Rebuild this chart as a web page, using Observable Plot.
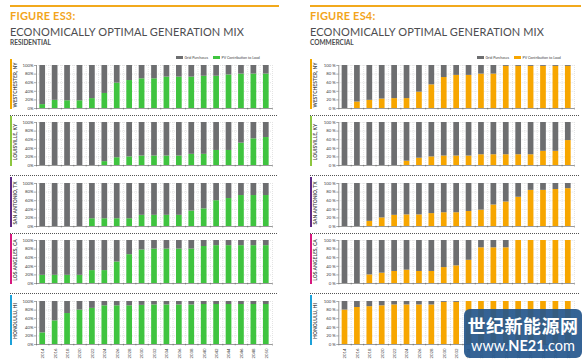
<!DOCTYPE html>
<html>
<head>
<meta charset="utf-8">
<script src="https://cdn.jsdelivr.net/npm/d3@7"></script>
<script src="https://cdn.jsdelivr.net/npm/@observablehq/plot@0.6"></script>
<style>
  html, body { margin: 0; padding: 0; background: #fff; }
  #root { position: relative; width: 588px; height: 364px; overflow: hidden; font-family: Lato, "Open Sans", sans-serif; }
  .topline { position: absolute; height: 1.5px; background: #f2a91c; }
  .fig { position: absolute; font-weight: 700; font-size: 11px; color: #f2a51b; letter-spacing: 0.2px; white-space: nowrap; }
  .ttl { position: absolute; font-weight: 400; font-size: 11px; color: #4d4d4f; letter-spacing: 0.1px; white-space: nowrap; }
  .sub { position: absolute; font-weight: 700; font-size: 6.5px; color: #4d4d4f; white-space: nowrap; }
  .sep { position: absolute; height: 0; border-top: 1px dotted #555; }
  .cbar { position: absolute; width: 1.5px; }
  .leg { position: absolute; font-size: 3.6px; color: #444; display: flex; align-items: center; gap: 1.5px; white-space: nowrap; }
  .sw { display: inline-block; width: 7px; height: 2.6px; }
  svg { position: absolute; overflow: visible; }
  #wm { position: absolute; left: 464px; top: 309px; width: 118px; height: 49px; background: rgba(36,86,140,0.92); border-radius: 6px; color: #fff; }
  #wm div { position: absolute; left: 0; width: 118px; text-align: center; white-space: nowrap; }
</style>
</head>
<body>
<div id="root"></div>
<script>
// ---------- data ----------
const years = [2014, 2016, 2018, 2020, 2022, 2024, 2026, 2028, 2030, 2032, 2034, 2036, 2038, 2040, 2042, 2044, 2046, 2048, 2050];
const cities = ["WESTCHESTER, NY", "LOUISVILLE, KY", "SAN ANTONIO, TX", "LOS ANGELES, CA", "HONOLULU, HI"];
const cityColors = ["#f2a900", "#8dc63f", "#5e2a84", "#d6187f", "#1da1d9"];
const yTicks = [0, 20, 40, 60, 80, 100];
const seriesNames = ["Grid Purchases", "PV Contribution to Load"];

// PV contribution to load (%) — residential
const resWestchester = [9, 19, 18, 18, 23, 35, 59, 65, 69, 69, 73, 73, 73, 75, 75, 78, 80, 80, 80];
const resLouisville  = [0, 0, 0, 0, 0, 9, 18, 20, 22, 22, 22, 22, 26, 26, 35, 35, 52, 62, 65];
const resSanAntonio  = [0, 0, 0, 0, 18, 18, 18, 18, 26, 26, 26, 26, 36, 41, 60, 65, 72, 72, 72];
const resLosAngeles  = [19, 19, 19, 19, 30, 30, 50, 67, 78, 80, 80, 80, 80, 86, 88, 88, 88, 88, 88];
const resHonolulu    = [27, 55, 72, 80, 84, 90, 90, 90, 91, 92, 92, 92, 92, 93, 93, 93, 93, 93, 93];

// PV contribution to load (%) — commercial
const comWestchester = [0, 15, 19, 22, 23, 23, 38, 55, 72, 77, 77, 80, 80, 98, 98, 98, 98, 98, 98];
const comLouisville  = [0, 0, 0, 0, 0, 10, 17, 20, 22, 22, 22, 25, 25, 25, 25, 25, 33, 33, 58];
const comSanAntonio  = [0, 0, 12, 20, 26, 27, 27, 30, 32, 32, 35, 38, 50, 57, 68, 84, 84, 86, 88];
const comLosAngeles  = [0, 0, 20, 24, 28, 31, 28, 28, 37, 41, 54, 83, 83, 83, 100, 100, 100, 100, 100];
const comHonolulu    = [80, 86, 88, 90, 92, 92, 92, 92, 98, 98, 100, 100, 100, 100, 100, 100, 100, 100, 100];

// ---------- layout ----------
const GRAY = "#6d6e70";
const GREEN = "#3fc43f";
const ORANGE = "#f7a600";
const root = document.getElementById("root");
const panelTops = [65, 122, 183, 240, 301];
const PH = 43;
const seps = [115, 175, 233, 293];

function el(cls, style, html) {
  const d = document.createElement("div");
  d.className = cls;
  Object.assign(d.style, style);
  if (html != null) d.innerHTML = html;
  root.appendChild(d);
  return d;
}

function column(cfg) {
  const { x0, axisX, endX, lineX1, lineX2, fig, sub, color, series, pctSep, legX } = cfg;
  el("topline", { left: lineX1 + "px", top: "5px", width: (lineX2 - lineX1) + "px" });
  el("fig", { left: (x0 + 10) + "px", top: "9px" }, fig);
  el("ttl", { left: (x0 + 10) + "px", top: "25px" }, "ECONOMICALLY OPTIMAL GENERATION MIX");
  el("sub", { left: (x0 + 10) + "px", top: "38.5px" }, sub);
  el("leg", { left: legX + "px", top: "55px" },
     `<span class="sw" style="background:${GRAY}"></span><span>${seriesNames[0]}</span><span style="width:2px"></span><span class="sw" style="background:${color}"></span><span>${seriesNames[1]}</span>`);
  seps.forEach(y => el("sep", { left: lineX1 + "px", top: y + "px", width: (lineX2 - lineX1 - 2) + "px" }));

  series.forEach((vals, i) => {
    const last = i === series.length - 1;
    const mt = 4, mb = last ? 20 : 4, mr = 8;
    const ml = axisX - x0;
    const data = years.map((year, j) => ({ year, pv: vals[j] }));
    const bounds = d3.range(2013, 2052, 2);
    const marks = [
      Plot.ruleY(yTicks.slice(1), { y: d => d, stroke: "#c8c8c8", strokeWidth: 0.5, strokeDasharray: "1,1" }),
      Plot.ruleX(bounds.slice(1), { x: d => d, stroke: "#c8c8c8", strokeWidth: 0.5, strokeDasharray: "1,1" }),
      Plot.rectY(data, { x1: d => d.year - 0.46, x2: d => d.year + 0.46, y1: 0, y2: "pv", fill: color }),
      Plot.rectY(data, { x1: d => d.year - 0.46, x2: d => d.year + 0.46, y1: "pv", y2: 100, fill: GRAY }),
      Plot.ruleX([2013], { stroke: "#555", strokeWidth: 0.6 }),
      Plot.ruleY([0], { stroke: "#555", strokeWidth: 0.6 }),
      Plot.axisY({ ticks: yTicks, label: null, tickFormat: d => d + pctSep + "%", tickSize: 2, tickPadding: 1, fontSize: 4.3, fill: "#444", stroke: "#555", strokeWidth: 0.5 }),
      Plot.axisX({ ticks: bounds, label: null, tickFormat: () => "", tickSize: 1.5, stroke: "#555", strokeWidth: 0.5 }),
      Plot.text([cities[i]], { frameAnchor: "left", textAnchor: "middle", dx: -(ml - 15), dy: -2, rotate: -90, text: d => d, fontSize: 5, fontWeight: 700, fill: "#4d4d4f" })
    ];
    if (last) {
      marks.push(Plot.text(years, { x: d => d, y: 0, dy: 4, rotate: -90, textAnchor: "end", text: d => String(d), fontSize: 4.3, fill: "#444" }));
    }
    const svg = Plot.plot({
      width: (endX - x0) + mr, height: PH + mt + mb,
      marginLeft: ml, marginRight: mr, marginTop: mt, marginBottom: mb,
      x: { type: "linear", domain: [2013, 2051], axis: null },
      y: { domain: [0, 100], axis: null },
      style: { background: "transparent", fontFamily: "Lato, 'Open Sans', sans-serif", overflow: "visible" },
      marks
    });
    svg.style.left = x0 + "px";
    svg.style.top = (panelTops[i] - mt) + "px";
    root.appendChild(svg);
    el("cbar", { left: (lineX1) + "px", top: (panelTops[i] - 6) + "px", height: (PH + 7) + "px", background: cityColors[i] });
  });
}

column({ x0: 0, axisX: 36, endX: 272, lineX1: 10, lineX2: 279, fig: "FIGURE ES3:", sub: "RESIDENTIAL",
         color: GREEN, pctSep: "", legX: 176,
         series: [resWestchester, resLouisville, resSanAntonio, resLosAngeles, resHonolulu] });
column({ x0: 300, axisX: 338.3, endX: 574, lineX1: 310, lineX2: 581, fig: "FIGURE ES4:", sub: "COMMERCIAL",
         color: ORANGE, pctSep: " ", legX: 477,
         series: [comWestchester, comLouisville, comSanAntonio, comLosAngeles, comHonolulu] });

// watermark
const wm = el("", {});
wm.id = "wm";
wm.innerHTML = `<div style="top:5px;font-family:'Noto Sans CJK SC',sans-serif;font-size:18px;font-weight:700;line-height:22px;letter-spacing:0.5px">世纪新能源网</div>
<div style="top:28px;font-family:Lato,'Open Sans',sans-serif;font-size:14.5px;line-height:17px">www.<b>NE21</b>.com</div>`;
</script>
</body>
</html>
